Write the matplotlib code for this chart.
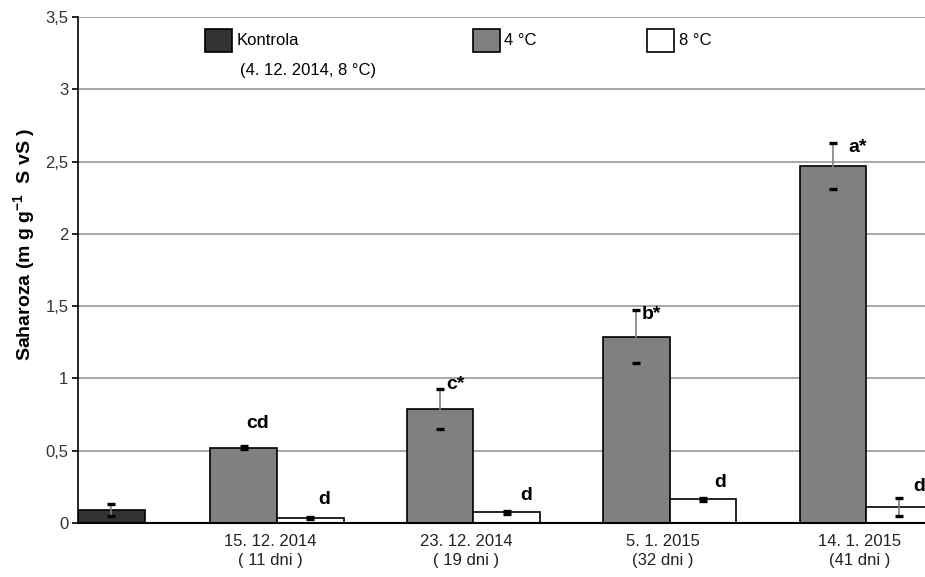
import matplotlib
matplotlib.use("Agg")
import matplotlib.pyplot as plt
from matplotlib.patches import Rectangle
from matplotlib import font_manager
import numpy as np

# ---- data ----
categories = ["15. 12. 2014\n( 11 dni )", "23. 12. 2014\n( 19 dni )",
              "5. 1. 2015\n(32 dni )", "14. 1. 2015\n(41 dni )"]
kontrola_val = [0.09]
kontrola_err = [0.04]
t4_val = [0.52, 0.79, 1.29, 2.47]
t4_err = [0.01, 0.14, 0.18, 0.16]
t8_val = [0.035, 0.075, 0.165, 0.11]
t8_err = [0.005, 0.01, 0.01, 0.06]
t4_letters = ["cd", "c*", "b*", "a*"]
t8_letters = ["d", "d", "d", "d"]
yticks = [0, 0.5, 1, 1.5, 2, 2.5, 3, 3.5]
ytick_labels = ["0", "0,5", "1", "1,5", "2", "2,5", "3", "3,5"]

FONT = ["Liberation Sans", "DejaVu Sans"]
plt.rcParams['font.family'] = FONT
names = {f.name for f in font_manager.fontManager.ttflist}
NARROW = ["Liberation Sans Narrow"] if "Liberation Sans Narrow" in names else ["DejaVu Sans Condensed"] if "DejaVu Sans Condensed" in names else FONT

fig = plt.figure(figsize=(9.25, 5.77), dpi=100)
ax = fig.add_axes([78/925, 1-523/577, 847/925, 506/577])

w = 0.339
groups = np.arange(1, len(categories)+1)
x4 = groups - w/2
x8 = groups + w/2
xk = np.array([0.157])

ax.bar(xk, kontrola_val, width=w, color="#333333", edgecolor="black", lw=1.2, zorder=2)
ax.bar(x4, t4_val, width=w, color="#808080", edgecolor="black", lw=1.2, zorder=2)
ax.bar(x8, t8_val, width=w, color="white", edgecolor="black", lw=1.2, zorder=2)

for xs, vs, es in [(xk, kontrola_val, kontrola_err), (x4, t4_val, t4_err), (x8, t8_val, t8_err)]:
    eb = ax.errorbar(xs, vs, yerr=es, fmt='none', ecolor="#808080", elinewidth=1.2,
                     capsize=3, capthick=2.4, zorder=3)
    for cl in eb[1]:
        cl.set_color("black")
        cl.set_markeredgecolor("black")
        cl.set_markerfacecolor("black")

# significance letters
dx4 = [0.069, 0.08, 0.076, 0.127]
ly4 = [0.685, 0.955, 1.44, 2.60]
for i, (lab, dx, ly) in enumerate(zip(t4_letters, dx4, ly4)):
    ax.text(x4[i] + dx, ly, lab, ha='center', va='center', fontsize=14,
            fontweight='bold', family=NARROW, zorder=4)
dx8 = [0.07, 0.10, 0.09, 0.10]
ly8 = [0.16, 0.19, 0.28, 0.25]
for i, (lab, dx, ly) in enumerate(zip(t8_letters, dx8, ly8)):
    ax.text(x8[i] + dx, ly, lab, ha='center', va='center', fontsize=14,
            fontweight='bold', family=NARROW, zorder=4, clip_on=False)

ax.set_xlim(-0.013, 4.30)
ax.set_ylim(0, 3.5)
ax.set_yticks(yticks)
ax.set_yticklabels(ytick_labels, fontsize=12, color="#333333")
ax.set_xticks(groups - 0.035)
ax.set_xticklabels(categories, fontsize=12, color="#222222", linespacing=1.3)
ax.tick_params(axis='x', length=0, pad=8)
ax.tick_params(axis='y', length=4, width=1.2, pad=3, direction='out')

ax.yaxis.grid(True, color="#a0a0a0", lw=1.3, zorder=0)
ax.set_axisbelow(True)
for s in ["top", "right"]:
    ax.spines[s].set_visible(False)
ax.spines["left"].set_linewidth(1.2)
ax.spines["bottom"].set_linewidth(1.5)

fig.text(25/925, 1-245/577, "Saharoza (m g g$^{\\mathregular{-1}}$  S vS )", rotation=90,
         ha='center', va='center', fontsize=14, fontweight='bold', family=NARROW)

# legend (manual)
leg = [("#333333", 0.150, "Kontrola"), ("#808080", 0.466, "4 °C"), ("white", 0.672, "8 °C")]
for col, lx, lab in leg:
    ax.add_patch(Rectangle((lx, 0.931), 0.032, 0.045, transform=ax.transAxes,
                           facecolor=col, edgecolor="black", lw=1.2, clip_on=False, zorder=5))
    ax.text(lx + 0.037, 0.953, lab, transform=ax.transAxes, fontsize=12,
            va='center', ha='left', zorder=5)
ax.text(0.191, 0.895, "(4. 12. 2014, 8 °C)", transform=ax.transAxes, fontsize=12,
        va='center', ha='left', zorder=5)

fig.savefig("out.png", dpi=100)
